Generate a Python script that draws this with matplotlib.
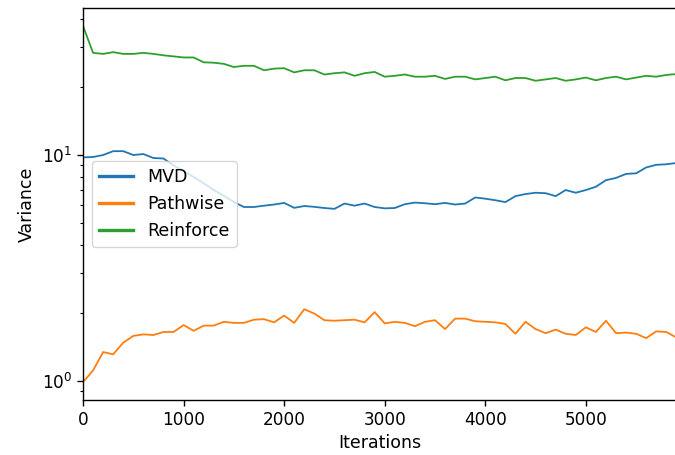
import numpy as np
import matplotlib
matplotlib.use("Agg")
import matplotlib.pyplot as plt

# variance estimates logged every 100 iterations
iterations = np.arange(0, 6000, 100)

mvd = [9.76, 9.8, 10.0, 10.4, 10.4, 10.0, 10.1, 9.7, 9.65, 9.0,
       8.5, 8.0, 7.5, 7.0, 6.6, 6.2, 5.89, 5.89, 5.97, 6.04,
       6.14, 5.84, 5.95, 5.9, 5.83, 5.78, 6.1, 5.97, 6.1, 5.89,
       5.81, 5.83, 6.06, 6.16, 6.12, 6.06, 6.14, 6.04, 6.1, 6.49,
       6.41, 6.31, 6.19, 6.58, 6.72, 6.81, 6.78, 6.58, 7.0, 6.81,
       7.0, 7.24, 7.74, 7.92, 8.25, 8.3, 8.81, 9.05, 9.1, 9.22]

pathwise = [0.99, 1.116, 1.345, 1.314, 1.48, 1.585, 1.61, 1.60, 1.65, 1.65,
            1.77, 1.67, 1.76, 1.76, 1.83, 1.81, 1.81, 1.87, 1.88, 1.82,
            1.95, 1.81, 2.08, 1.99, 1.86, 1.85, 1.86, 1.87, 1.82, 2.02,
            1.80, 1.83, 1.81, 1.75, 1.83, 1.86, 1.70, 1.89, 1.89, 1.84,
            1.83, 1.82, 1.79, 1.62, 1.83, 1.70, 1.63, 1.69, 1.62, 1.60,
            1.73, 1.65, 1.85, 1.63, 1.64, 1.62, 1.55, 1.66, 1.65, 1.56]

reinforce = [37.2, 28.3, 28.0, 28.5, 28.0, 28.0, 28.3, 28.0, 27.6, 27.3,
             27.0, 27.0, 25.7, 25.6, 25.3, 24.5, 24.8, 24.8, 23.7, 24.1,
             24.2, 23.2, 23.7, 23.7, 22.7, 23.0, 23.2, 22.4, 23.0, 23.3,
             22.2, 22.4, 22.7, 22.2, 22.2, 22.4, 21.7, 22.2, 22.2, 21.6,
             21.9, 22.2, 21.4, 21.9, 21.9, 21.3, 21.6, 21.9, 21.3, 21.6,
             22.0, 21.4, 21.9, 22.2, 21.6, 22.0, 22.4, 22.2, 22.6, 22.8]

plt.rcParams.update({
    "font.size": 12.5,
    "axes.linewidth": 1.0,
    "xtick.major.size": 4.4, "ytick.major.size": 4.4,
    "xtick.major.width": 1.0, "ytick.major.width": 1.0,
    "ytick.minor.size": 2.5, "ytick.minor.width": 0.8,
})

fig = plt.figure(figsize=(6.75, 4.55), dpi=100)
ax = fig.add_axes([0.123, 0.121, 0.879, 0.861])

ax.plot(iterations, mvd, color="C0", lw=1.3, label="MVD")
ax.plot(iterations, pathwise, color="C1", lw=1.3, label="Pathwise")
ax.plot(iterations, reinforce, color="C2", lw=1.3, label="Reinforce")

ax.set_yscale("log")
ax.set_xlim(0, 5900)
ax.set_xlabel("Iterations")
ax.set_ylabel("Variance")
ax.tick_params(labelsize=12.2)

leg = ax.legend(loc="center left")
for line in leg.get_lines():
    line.set_linewidth(2.4)

fig.savefig("out.png", dpi=100)
